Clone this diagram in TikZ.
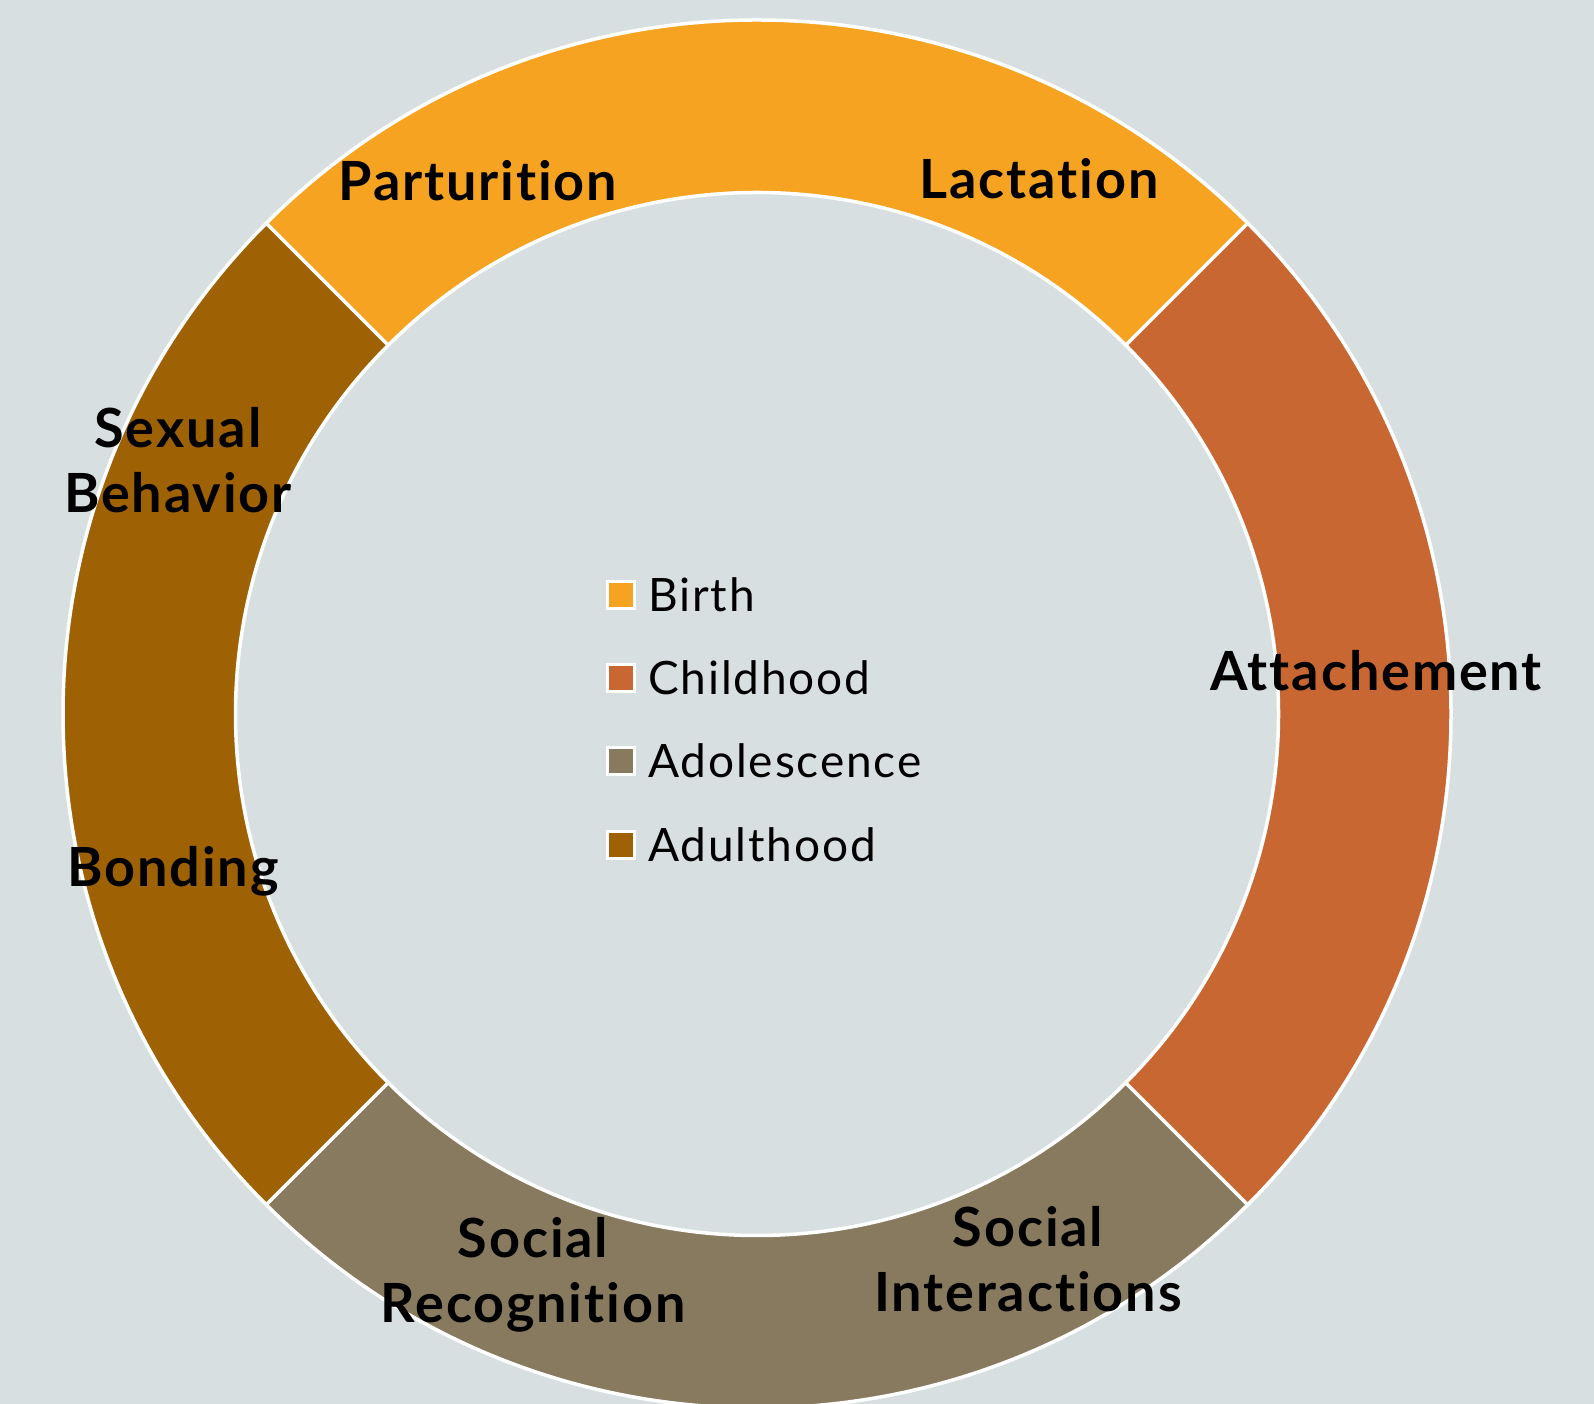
\documentclass[tikz,border=0pt]{standalone}
\usepackage{fontspec}
\setmainfont{Lato}[Ligatures={NoCommon}]
\newfontfamily\labfont{Lato}[Ligatures={NoCommon}, LetterSpace=3.5]
\newfontfamily\legfont{Lato}[Ligatures={NoCommon}, LetterSpace=4]
\definecolor{bgc}{RGB}{216,223,225}
\definecolor{birthc}{RGB}{245,163,32}
\definecolor{childc}{RGB}{201,103,50}
\definecolor{adolc}{RGB}{135,122,95}
\definecolor{adultc}{RGB}{158,98,5}
\tikzset{
  seg/.style={fill=#1, draw=white, line width=3.5pt, line join=miter},
  lab/.style={font=\labfont\fontsize{54}{65}\selectfont\bfseries, text=black, align=center, inner sep=0pt},
  legbox/.style={fill=#1, draw=white, line width=3pt, minimum size=27pt, inner sep=0pt},
  legtxt/.style={font=\legfont\fontsize{46}{52}\selectfont, text=black, anchor=west, inner sep=0pt}
}
\begin{document}
\begin{tikzpicture}[x=1pt,y=1pt]
\useasboundingbox (0,0) rectangle (1594,1404);
\fill[bgc] (0,0) rectangle (1594,1404);
\begin{scope}[shift={(757,690)}]
  \def\Ro{694}\def\Ri{521.5}
  \path[seg=birthc] (45:\Ro) arc[start angle=45,end angle=135,radius=\Ro] -- (135:\Ri) arc[start angle=135,end angle=45,radius=\Ri] -- cycle;
  \path[seg=adultc] (135:\Ro) arc[start angle=135,end angle=225,radius=\Ro] -- (225:\Ri) arc[start angle=225,end angle=135,radius=\Ri] -- cycle;
  \path[seg=adolc] (225:\Ro) arc[start angle=225,end angle=315,radius=\Ro] -- (315:\Ri) arc[start angle=315,end angle=225,radius=\Ri] -- cycle;
  \path[seg=childc] (-45:\Ro) arc[start angle=-45,end angle=45,radius=\Ro] -- (45:\Ri) arc[start angle=45,end angle=-45,radius=\Ri] -- cycle;
\end{scope}
\node[lab] (partur) at (478,1223) {Parturition};
\node[lab] (lact) at (1039,1225) {Lactation};
\node[lab] (attach) at (1376,733) {Attachement};
\node[lab] (sexual) at (178,944) {Sexual\\Behavior};
\node[lab] (bond) at (173,533) {Bonding};
\node[lab] (socrec) at (533,129) {Social\\Recognition};
\node[lab] (socint) at (1028,145) {Social\\Interactions};
\node[legbox=birthc] (lb1) at (621,809) {};
\node[legbox=childc] (lb2) at (621,726) {};
\node[legbox=adolc] (lb3) at (621,643) {};
\node[legbox=adultc] (lb4) at (621,559) {};
\node[legtxt] (lt1) at (648,809) {Birth};
\node[legtxt] (lt2) at (648,726) {Childhood};
\node[legtxt] (lt3) at (648,643) {Adolescence};
\node[legtxt] (lt4) at (648,559) {Adulthood};
\end{tikzpicture}
\end{document}
